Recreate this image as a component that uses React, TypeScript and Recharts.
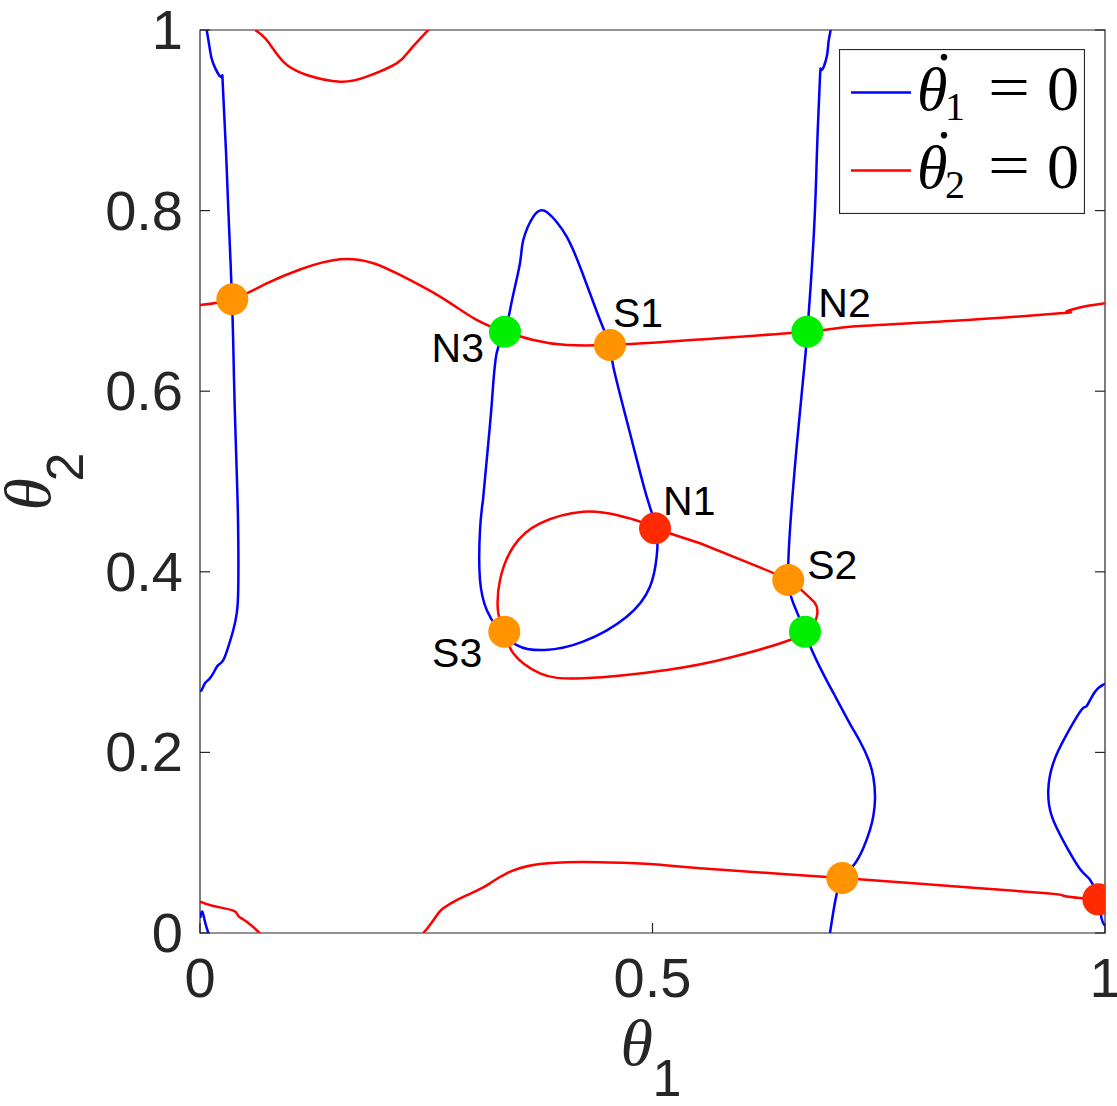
import React from 'react';
import { ComposedChart, Line, Scatter, XAxis, YAxis, Legend, ReferenceArea } from 'recharts';

const X_TICKS = [0, 0.5, 1];
const Y_TICKS = [0, 0.2, 0.4, 0.6, 0.8, 1];

// theta1-dot = 0 nullcline, one array per visible piece
const BLUE_LEFT = [
  [0.0074, 1.0], [0.011, 0.978], [0.0144, 0.9635], [0.0232, 0.9479], [0.0251, 0.941],
  [0.0287, 0.866], [0.0309, 0.8106], [0.0354, 0.6999], [0.0376, 0.6124], [0.0398, 0.5349],
  [0.042, 0.4574], [0.0423, 0.3835], [0.0406, 0.354], [0.0368, 0.3355], [0.0313, 0.3171],
  [0.0257, 0.3023], [0.0202, 0.2968], [0.0166, 0.2912], [0.011, 0.2821], [0.0055, 0.2765],
  [0.0019, 0.2691], [0, 0.2691],
];
const BLUE_CORNER = [[0.0003, 0.0166], [0.0025, 0.0236], [0.0055, 0.0125], [0.0092, 0]];
const BLUE_LOOP = [
  [0.3127, 0.4795], [0.3094, 0.4463], [0.3094, 0.3909], [0.3168, 0.3577], [0.3278, 0.3392],
  [0.35, 0.3189], [0.3812, 0.3134], [0.4232, 0.3226], [0.4715, 0.3503], [0.4972, 0.3835],
  [0.5046, 0.4167], [0.5046, 0.4463], [0.4936, 0.4832], [0.4751, 0.5537], [0.4567, 0.6271],
  [0.453, 0.6512], [0.442, 0.6788], [0.4199, 0.7379], [0.4052, 0.7711], [0.3941, 0.7874],
  [0.3804, 0.7999], [0.3683, 0.7934], [0.3572, 0.7674], [0.3536, 0.742], [0.3448, 0.701],
  [0.337, 0.6659], [0.3278, 0.6423], [0.3227, 0.5903], [0.3182, 0.5385], [0.3127, 0.4795],
];
const BLUE_RIGHT = [
  [0.6969, 1.0], [0.6943, 0.9853], [0.6925, 0.9704], [0.687, 0.9557], [0.6851, 0.9483],
  [0.6818, 0.8671], [0.6785, 0.7785], [0.6711, 0.6659], [0.6663, 0.6123], [0.6593, 0.5385],
  [0.6519, 0.4463], [0.65, 0.3909], [0.6556, 0.3651], [0.6685, 0.3337], [0.674, 0.3182],
  [0.6887, 0.2869], [0.7035, 0.2591], [0.7182, 0.2317], [0.7293, 0.2121], [0.7385, 0.1925],
  [0.744, 0.1728], [0.7459, 0.1495], [0.744, 0.1296], [0.7403, 0.1141], [0.733, 0.0942],
  [0.7219, 0.0746], [0.7097, 0.0609], [0.7035, 0.0432], [0.6998, 0.0236], [0.6961, 0],
];
const BLUE_EDGE = [
  [1.0, 0.2749], [0.9981, 0.2749], [0.989, 0.2671], [0.9798, 0.2514], [0.9743, 0.2474],
  [0.9577, 0.2199], [0.9429, 0.1885], [0.9373, 0.1573], [0.9411, 0.1296], [0.9539, 0.1021],
  [0.9724, 0.0709], [0.9834, 0.0589], [0.9923, 0.0377], [0.9963, 0.0157], [1.0, 0.0078],
];

// theta2-dot = 0 nullcline
const RED_TOP = [
  [0.0608, 1.0], [0.0737, 0.9889], [0.092, 0.9649], [0.1179, 0.9502], [0.1547, 0.9427],
  [0.1842, 0.9483], [0.2173, 0.9631], [0.232, 0.9779], [0.2505, 0.9981], [0.2514, 1.0],
];
const RED_UPPER = [
  [0, 0.6955], [0.0357, 0.7018], [0.0737, 0.7193], [0.1105, 0.7348], [0.1547, 0.7461],
  [0.1915, 0.7417], [0.221, 0.7287], [0.2652, 0.7047], [0.3057, 0.6789], [0.337, 0.6659],
  [0.3683, 0.6567], [0.4052, 0.6512], [0.453, 0.6512], [0.5157, 0.6548], [0.6696, 0.6659],
  [0.7182, 0.6714], [0.8287, 0.6777], [0.9503, 0.6863], [0.9577, 0.6881], [0.9687, 0.6918],
  [0.9798, 0.6944], [1.0, 0.6974],
];
const RED_LOOP = [
  [0.5525, 0.4316], [0.6077, 0.4094], [0.65, 0.3909], [0.6666, 0.378], [0.6796, 0.3651],
  [0.6821, 0.354], [0.6777, 0.3411], [0.6685, 0.3337], [0.6519, 0.3245], [0.5893, 0.306],
  [0.5157, 0.2913], [0.4235, 0.2821], [0.3757, 0.2876], [0.3462, 0.3098], [0.3362, 0.3337],
  [0.3296, 0.354], [0.3315, 0.3909], [0.3462, 0.4278], [0.3757, 0.4537], [0.4235, 0.4666],
  [0.4604, 0.4629], [0.4862, 0.4555], [0.5028, 0.4482], [0.5525, 0.4316],
];
const RED_LOWER = [
  [0.2467, 0], [0.2541, 0.0089], [0.2633, 0.0218], [0.2688, 0.0274], [0.2836, 0.0365],
  [0.3057, 0.0468], [0.3204, 0.055], [0.3389, 0.0661], [0.3683, 0.0753], [0.4052, 0.0783],
  [0.442, 0.0783], [0.4972, 0.0764], [0.5525, 0.0717], [0.7097, 0.0609], [0.8287, 0.052],
  [0.9356, 0.044], [0.9539, 0.0413], [0.9724, 0.0388], [0.9926, 0.0373], [1.0, 0.0365],
];
const RED_CORNER = [
  [0, 0.0347], [0.0147, 0.0299], [0.0368, 0.0247], [0.0423, 0.0188], [0.0516, 0.0125],
  [0.0644, 0.0014], [0.0652, 0],
];

// equilibria: [theta1, theta2, label]
const SADDLES = [[0.0357, 0.7018, ''], [0.453, 0.6512, 'S1'], [0.65, 0.3909, 'S2'], [0.3362, 0.3337, 'S3'], [0.7097, 0.0609, '']];
const STABLE_NODES = [[0.337, 0.6659, 'N3'], [0.6711, 0.6659, 'N2'], [0.6685, 0.3337, '']];
const UNSTABLE_NODES = [[0.5028, 0.4482, 'N1'], [0.9926, 0.0373, '']];

const LEGEND_NAMES = ['θ̇1 = 0', 'θ̇2 = 0'];

// where each point label sits relative to its dot (px)
const LABEL_OFFSETS = {
  N1: { dx: 8, dy: -13, anchor: 'start' },
  N2: { dx: 11, dy: -15, anchor: 'start' },
  N3: { dx: -21, dy: 30, anchor: 'end' },
  S1: { dx: 3, dy: -18, anchor: 'start' },
  S2: { dx: 19, dy: -1, anchor: 'start' },
  S3: { dx: -22, dy: 35, anchor: 'end' },
};

const BLUE = '#0000ff';
const RED = '#ff0000';
const ORANGE = '#ff9400';
const GREEN = '#00ee00';
const DOT_RED = '#ff2a00';
const AXIS = '#262626';
const SANS = "'Liberation Sans', Arial, Helvetica, sans-serif";
const SERIF = "'Liberation Serif', 'DejaVu Serif', 'Times New Roman', serif";

const toPts = (arr) => arr.map(([x, y]) => ({ x, y }));
const toMarks = (arr) => arr.map(([x, y, label]) => ({ x, y, label }));

function BottomTick({ x, y, payload }) {
  return (
    <g>
      <line x1={x} y1={y} x2={x} y2={y - 10} stroke={AXIS} strokeWidth={1.2} />
      <text x={x} y={y + 64} textAnchor="middle" fontSize={56} fill={AXIS} fontFamily={SANS}>
        {payload.value}
      </text>
    </g>
  );
}

function LeftTick({ x, y, payload }) {
  return (
    <g>
      <line x1={x} y1={y} x2={x + 10} y2={y} stroke={AXIS} strokeWidth={1.2} />
      <text x={x - 17} y={y + 19} textAnchor="end" fontSize={56} fill={AXIS} fontFamily={SANS}>
        {payload.value}
      </text>
    </g>
  );
}

const TopTick = ({ x, y }) => <line x1={x} y1={y} x2={x} y2={y + 10} stroke={AXIS} strokeWidth={1.2} />;
const RightTick = ({ x, y }) => <line x1={x} y1={y} x2={x - 10} y2={y} stroke={AXIS} strokeWidth={1.2} />;

function XTitle({ viewBox }) {
  const cx = viewBox.x + viewBox.width / 2;
  return (
    <g fill={AXIS}>
      <text x={cx - 32} y={viewBox.y + 132} fontSize={66} fontStyle="italic" fontFamily={SERIF}>θ</text>
      <text x={cx} y={viewBox.y + 163} fontSize={52} fontFamily={SANS}>1</text>
    </g>
  );
}

function YTitle({ viewBox }) {
  const cy = viewBox.y + viewBox.height / 2;
  return (
    <g fill={AXIS} transform={`translate(${viewBox.x + 50}, ${cy + 29}) rotate(-90)`}>
      <text x={0} y={0} fontSize={66} fontStyle="italic" fontFamily={SERIF}>θ</text>
      <text x={29} y={33} fontSize={52} fontFamily={SANS}>2</text>
    </g>
  );
}

function NullclineLegend({ payload }) {
  const items = (payload || []).filter((p) => p.type !== 'none');
  return (
    <svg width={246} height={165} style={{ display: 'block' }}>
      <rect x={0.5} y={0.5} width={245} height={164} fill="#fff" stroke={AXIS} strokeWidth={1.2} />
      {items.map((item, i) => {
        const base = 61 + i * 78;
        const sub = (String(item.value).match(/\d/) || [''])[0];
        return (
          <g key={i} fill="#000">
            <line x1={12} x2={72} y1={base - 17.5} y2={base - 17.5} stroke={item.color} strokeWidth={2.5} />
            <text x={78} y={base} fontSize={62} fontStyle="italic" fontFamily={SERIF}>θ</text>
            <text x={105} y={base - 50} fontSize={56} textAnchor="middle" fontFamily={SERIF}>.</text>
            <text x={106} y={base + 10} fontSize={40} fontFamily={SERIF}>{sub}</text>
            <text x={149} y={base - 2} fontSize={62} fontFamily={SERIF} textLength={42} lengthAdjust="spacingAndGlyphs">=</text>
            <text x={224} y={base} fontSize={64} textAnchor="middle" fontFamily={SERIF}>0</text>
          </g>
        );
      })}
    </svg>
  );
}

const dotShape = (color) => (props) => {
  const { cx, cy, payload } = props;
  const off = LABEL_OFFSETS[payload.label];
  return (
    <g>
      <circle cx={cx} cy={cy} r={16} fill={color} />
      {off && (
        <text x={cx + off.dx} y={cy + off.dy} textAnchor={off.anchor} fontSize={41} fill="#000" fontFamily={SANS}>
          {payload.label}
        </text>
      )}
    </g>
  );
};

const BLUE_PIECES = [BLUE_LEFT, BLUE_CORNER, BLUE_LOOP, BLUE_RIGHT, BLUE_EDGE];
const RED_PIECES = [RED_UPPER, RED_TOP, RED_LOOP, RED_LOWER, RED_CORNER];

export default function App() {
  return (
    <div style={{ position: 'absolute', left: 0, top: 0, background: '#fff' }}>
      <ComposedChart width={1117} height={1106} margin={{ top: 0, right: 0, bottom: 0, left: 0 }}>
        <XAxis
          dataKey="x"
          type="number"
          domain={[0, 1]}
          ticks={X_TICKS}
          interval={0}
          allowDataOverflow
          height={173}
          axisLine={false}
          tickLine={false}
          tickSize={0}
          tickMargin={0}
          tick={<BottomTick />}
          label={{ content: (p) => <XTitle {...p} /> }}
        />
        <XAxis
          xAxisId="top"
          orientation="top"
          type="number"
          domain={[0, 1]}
          ticks={X_TICKS}
          interval={0}
          allowDataOverflow
          height={30}
          axisLine={false}
          tickLine={false}
          tickSize={0}
          tickMargin={0}
          tick={<TopTick />}
        />
        <YAxis
          dataKey="y"
          type="number"
          domain={[0, 1]}
          ticks={Y_TICKS}
          interval={0}
          allowDataOverflow
          width={200}
          axisLine={false}
          tickLine={false}
          tickSize={0}
          tickMargin={0}
          tick={<LeftTick />}
          label={{ content: (p) => <YTitle {...p} /> }}
        />
        <YAxis
          yAxisId="right"
          orientation="right"
          type="number"
          domain={[0, 1]}
          ticks={Y_TICKS}
          interval={0}
          allowDataOverflow
          width={12}
          axisLine={false}
          tickLine={false}
          tickSize={0}
          tickMargin={0}
          tick={<RightTick />}
        />
        <Legend
          layout="horizontal"
          verticalAlign="middle"
          align="center"
          content={<NullclineLegend />}
          wrapperStyle={{ left: 839, top: 49, width: 246, height: 165 }}
        />
        <ReferenceArea x1={0} x2={1} y1={0} y2={1} fill="none" fillOpacity={0} stroke={AXIS} strokeWidth={1.2} ifOverflow="visible" />
        {BLUE_PIECES.map((piece, i) => (
          <Line
            key={`b${i}`}
            data={toPts(piece)}
            dataKey="y"
            name={i === 0 ? LEGEND_NAMES[0] : `blue-${i}`}
            legendType={i === 0 ? 'line' : 'none'}
            type="natural"
            stroke={BLUE}
            strokeWidth={2.5}
            dot={false}
            activeDot={false}
            isAnimationActive={false}
          />
        ))}
        {RED_PIECES.map((piece, i) => (
          <Line
            key={`r${i}`}
            data={toPts(piece)}
            dataKey="y"
            name={i === 0 ? LEGEND_NAMES[1] : `red-${i}`}
            legendType={i === 0 ? 'line' : 'none'}
            type="natural"
            stroke={RED}
            strokeWidth={2.5}
            dot={false}
            activeDot={false}
            isAnimationActive={false}
          />
        ))}
        <Scatter data={toMarks(SADDLES)} legendType="none" shape={dotShape(ORANGE)} isAnimationActive={false} />
        <Scatter data={toMarks(STABLE_NODES)} legendType="none" shape={dotShape(GREEN)} isAnimationActive={false} />
        <Scatter data={toMarks(UNSTABLE_NODES)} legendType="none" shape={dotShape(DOT_RED)} isAnimationActive={false} />
      </ComposedChart>
    </div>
  );
}
